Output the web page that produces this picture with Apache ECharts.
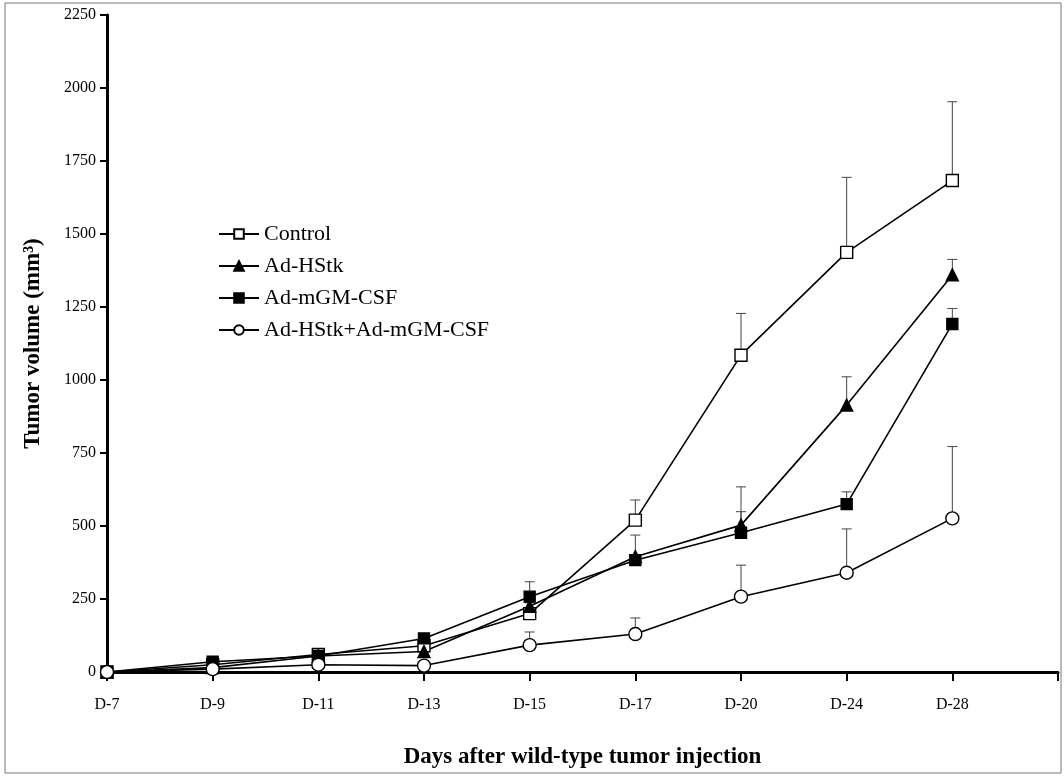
<!DOCTYPE html>
<html>
<head>
<meta charset="utf-8">
<script src="https://cdn.jsdelivr.net/npm/echarts@6/dist/echarts.min.js"></script>
<style>
  html, body { margin: 0; padding: 0; background: #fff; }
  #chart { width: 1064px; height: 776px; }
</style>
</head>
<body>
<div id="chart"></div>
<script>
// days after injection (last slot is an empty tick at the end of the axis)
const days = ['D-7', 'D-9', 'D-11', 'D-13', 'D-15', 'D-17', 'D-20', 'D-24', 'D-28', ''];

// mean tumour volume (mm3)
const control = [0, 25, 60, 90, 200, 520, 1085, 1437, 1683];
const adHStk = [0, 15, 55, 70, 225, 395, 503, 914, 1360];
const adGMCSF = [0, 35, 55, 115, 258, 383, 477, 575, 1192];
const combo = [0, 10, 25, 22, 92, 130, 258, 340, 526];

// upper error (SEM)
const controlErr = [0, 5, 8, 10, 15, 69, 143, 257, 270];
const adHStkErr = [0, 4, 6, 8, 12, 74, 131, 97, 53];
const adGMCSFErr = [0, 5, 6, 10, 51, 15, 72, 42, 53];
const comboErr = [0, 3, 5, 5, 45, 55, 108, 150, 246];

const serif = '"Liberation Serif", "DejaVu Serif", serif';

const chartDom = document.getElementById('chart');
const myChart = echarts.init(chartDom);

// error bar series built from mean + err arrays
function errorSeries(name, values, errs) {
  return {
    name: name + ' (err)',
    type: 'custom',
    z: 1,
    silent: true,
    renderItem: function (params, api) {
      const base = api.coord([api.value(0), api.value(1)]);
      const top = api.coord([api.value(0), api.value(2)]);
      return {
        type: 'group',
        children: [
          {
            type: 'line',
            shape: { x1: base[0], y1: base[1], x2: base[0], y2: top[1] },
            style: { stroke: '#444', lineWidth: 1 }
          },
          {
            type: 'line',
            shape: { x1: base[0] - 5, y1: top[1], x2: base[0] + 5, y2: top[1] },
            style: { stroke: '#444', lineWidth: 1 }
          }
        ]
      };
    },
    data: values.map((v, i) => [i, v, v + errs[i]])
  };
}

function lineSeries(name, values, symbol, size, fill) {
  return {
    name: name,
    type: 'line',
    z: 3,
    data: values,
    symbol: symbol,
    symbolSize: size,
    showAllSymbol: true,
    color: fill,
    lineStyle: { color: '#000', width: 1.6 },
    itemStyle: { color: fill, borderColor: '#000', borderWidth: 1.4 }
  };
}

const option = {
  animation: false,
  backgroundColor: '#fff',
  graphic: [
    {
      type: 'rect',
      shape: { x: 5, y: 3, width: 1056, height: 770 },
      style: { fill: 'none', stroke: '#777', lineWidth: 1 }
    }
  ],
  legend: {
    orient: 'vertical',
    left: 213,
    top: 218,
    itemWidth: 40,
    itemHeight: 12,
    itemGap: 10,
    data: ['Control', 'Ad-HStk', 'Ad-mGM-CSF', 'Ad-HStk+Ad-mGM-CSF'],
    textStyle: { fontFamily: serif, fontSize: 22, color: '#000' }
  },
  grid: {
    left: 107,
    right: 6,
    top: 15,
    bottom: 104
  },
  xAxis: {
    type: 'category',
    data: days,
    boundaryGap: false,
    name: 'Days after wild-type tumor injection',
    nameLocation: 'middle',
    nameGap: 74,
    nameTextStyle: { fontFamily: serif, fontSize: 23, fontWeight: 'bold', color: '#000' },
    axisLine: { lineStyle: { color: '#000', width: 3 } },
    axisTick: { alignWithLabel: true, length: 9, lineStyle: { color: '#000', width: 2 } },
    axisLabel: { interval: 0, margin: 25, fontFamily: serif, fontSize: 16, color: '#000' },
    splitLine: { show: false }
  },
  yAxis: {
    type: 'value',
    min: 0,
    max: 2250,
    interval: 250,
    name: 'Tumor volume (mm³)',
    nameLocation: 'middle',
    nameGap: 62,
    nameTextStyle: { fontFamily: serif, fontSize: 23, fontWeight: 'bold', color: '#000' },
    axisLine: { show: true, lineStyle: { color: '#000', width: 3 } },
    axisTick: { show: true, length: 7, lineStyle: { color: '#000', width: 2 } },
    axisLabel: {
      margin: 11,
      fontFamily: serif,
      fontSize: 16,
      color: '#000',
      formatter: v => String(v)
    },
    splitLine: { show: false }
  },
  series: [
    errorSeries('Control', control, controlErr),
    errorSeries('Ad-HStk', adHStk, adHStkErr),
    errorSeries('Ad-mGM-CSF', adGMCSF, adGMCSFErr),
    errorSeries('Ad-HStk+Ad-mGM-CSF', combo, comboErr),
    lineSeries('Control', control, 'rect', 12, '#fff'),
    lineSeries('Ad-HStk', adHStk, 'triangle', 12, '#000'),
    lineSeries('Ad-mGM-CSF', adGMCSF, 'rect', 11, '#000'),
    lineSeries('Ad-HStk+Ad-mGM-CSF', combo, 'circle', 13, '#fff')
  ]
};

myChart.setOption(option);
window.addEventListener('resize', () => myChart.resize());
</script>
</body>
</html>
